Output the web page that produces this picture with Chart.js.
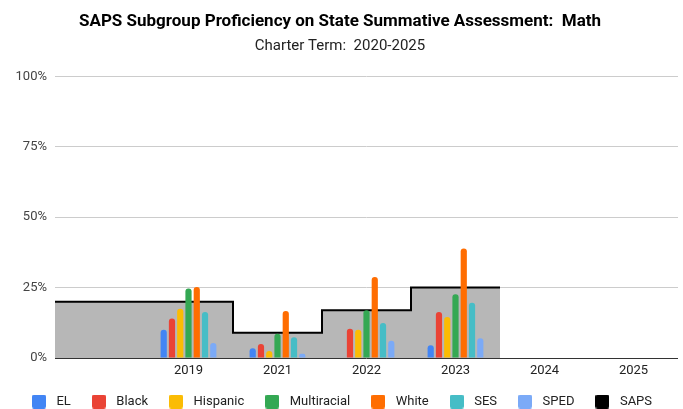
<!DOCTYPE html>
<html>
<head>
<meta charset="utf-8">
<script src="https://cdn.jsdelivr.net/npm/chart.js@4.4.1/dist/chart.umd.min.js"></script>
<style>
  html, body { margin: 0; padding: 0; background: #fff; }
  #wrap { width: 683px; height: 409px; position: relative; }
</style>
</head>
<body>
<div id="wrap"><canvas id="chart"></canvas></div>
<script>
// categories (first one has no label on the axis)
const years = ['', '2019', '2021', '2022', '2023', '2024', '2025'];

// subgroup proficiency, percent
const el          = [null, 10, 3.5, null, 4.5, null, null];
const black       = [null, 14, 5, 10.4, 16.3, null, null];
const hispanic    = [null, 17.5, 2.5, 10, 14.6, null, null];
const multiracial = [null, 24.7, 8.6, 17, 22.6, null, null];
const white       = [null, 25.2, 16.7, 28.8, 38.9, null, null];
const ses         = [null, 16.3, 7.4, 12.4, 19.6, null, null];
const sped        = [null, 5.3, 1.5, 6.1, 7, null, null];

// whole school (stepped area), one value per category from the left
const saps = [20, 20, 9, 17, 25];

const yTicks = [0, 25, 50, 75, 100];

// The x axis uses half-category slots: centres at odd slots, edges at even ones,
// so the stepped SAPS area can change level exactly on category edges.
const nSlots = years.length * 2 + 1;
const slotLabels = Array.from({ length: nSlots }, (_, s) => s % 2 ? years[(s - 1) / 2] : '');
const toCentres = (arr) => {
  const out = new Array(nSlots).fill(null);
  arr.forEach((v, i) => { out[2 * i + 1] = v; });
  return out;
};
const toEdges = (arr) => {
  const out = new Array(nSlots).fill(null);
  arr.forEach((v, i) => { out[2 * i] = v; });
  out[2 * arr.length] = arr[arr.length - 1];
  return out;
};

const bars = [
  ['EL', el, '#4285f4'],
  ['Black', black, '#ea4335'],
  ['Hispanic', hispanic, '#fbbc04'],
  ['Multiracial', multiracial, '#34a853'],
  ['White', white, '#ff6d01'],
  ['SES', ses, '#46bdc6'],
  ['SPED', sped, '#7baaf7']
];

const datasets = bars.map(([label, data, color]) => ({
  type: 'bar',
  label: label,
  data: toCentres(data),
  backgroundColor: color,
  borderRadius: 3,
  categoryPercentage: 1.3,
  barPercentage: 0.75,
  order: 1
}));

datasets.push({
  type: 'line',
  label: 'SAPS',
  data: toEdges(saps),
  stepped: true,
  spanGaps: true,
  borderColor: '#000',
  borderWidth: 2,
  backgroundColor: '#b7b7b7',
  fill: 'origin',
  pointRadius: 0,
  order: 10,
  legendColor: '#000'
});

// small rounded squares for the legend
function legendBox(color) {
  const c = document.createElement('canvas');
  c.width = 14; c.height = 14;
  const g = c.getContext('2d');
  g.fillStyle = color;
  g.beginPath();
  if (g.roundRect) g.roundRect(0, 0, 14, 14, 2); else g.rect(0, 0, 14, 14);
  g.fill();
  return c;
}

new Chart(document.getElementById('chart'), {
  type: 'bar',
  data: { labels: slotLabels, datasets: datasets },
  options: {
    responsive: true,
    maintainAspectRatio: false,
    animation: false,
    layout: { padding: { left: 0, right: 3, top: 6, bottom: -9 } },
    plugins: {
      title: {
        display: true,
        text: 'SAPS Subgroup Proficiency on State Summative Assessment:  Math',
        color: '#000',
        font: { family: 'Roboto', size: 17, weight: 'bold' },
        padding: { top: 6, bottom: 5 }
      },
      subtitle: {
        display: true,
        text: 'Charter Term:  2020-2025',
        color: '#222',
        font: { family: 'Roboto', size: 15 },
        padding: { bottom: 21 }
      },
      legend: {
        position: 'bottom',
        labels: {
          usePointStyle: true,
          pointStyleWidth: 22,
          padding: 17,
          color: '#222',
          font: { family: 'Roboto', size: 13 },
          generateLabels: (chart) => {
            const items = Chart.defaults.plugins.legend.labels.generateLabels(chart);
            items.forEach(it => {
              const ds = chart.data.datasets[it.datasetIndex];
              it.pointStyle = legendBox(ds.legendColor || ds.backgroundColor);
              it.lineWidth = 0;
            });
            return items;
          }
        }
      },
      tooltip: { enabled: false }
    },
    scales: {
      x: {
        type: 'category',
        offset: false,
        grid: { display: false, drawTicks: false },
        border: { display: false },
        ticks: {
          autoSkip: false,
          maxRotation: 0,
          color: '#222',
          font: { family: 'Roboto', size: 13 },
          padding: 5
        },
        afterFit: (axis) => { axis.height = 20; }
      },
      y: {
        min: 0,
        max: 100,
        afterBuildTicks: (axis) => { axis.ticks = yTicks.map(v => ({ value: v })); },
        afterFit: (axis) => { axis.width = 55; },
        ticks: {
          color: '#444',
          font: { family: 'Roboto', size: 13 },
          padding: 8,
          callback: (v) => v + '%'
        },
        border: { display: false },
        grid: {
          color: (ctx) => ctx.tick && ctx.tick.value === 0 ? '#333' : '#cccccc',
          drawTicks: false
        }
      }
    }
  }
});
</script>
</body>
</html>
